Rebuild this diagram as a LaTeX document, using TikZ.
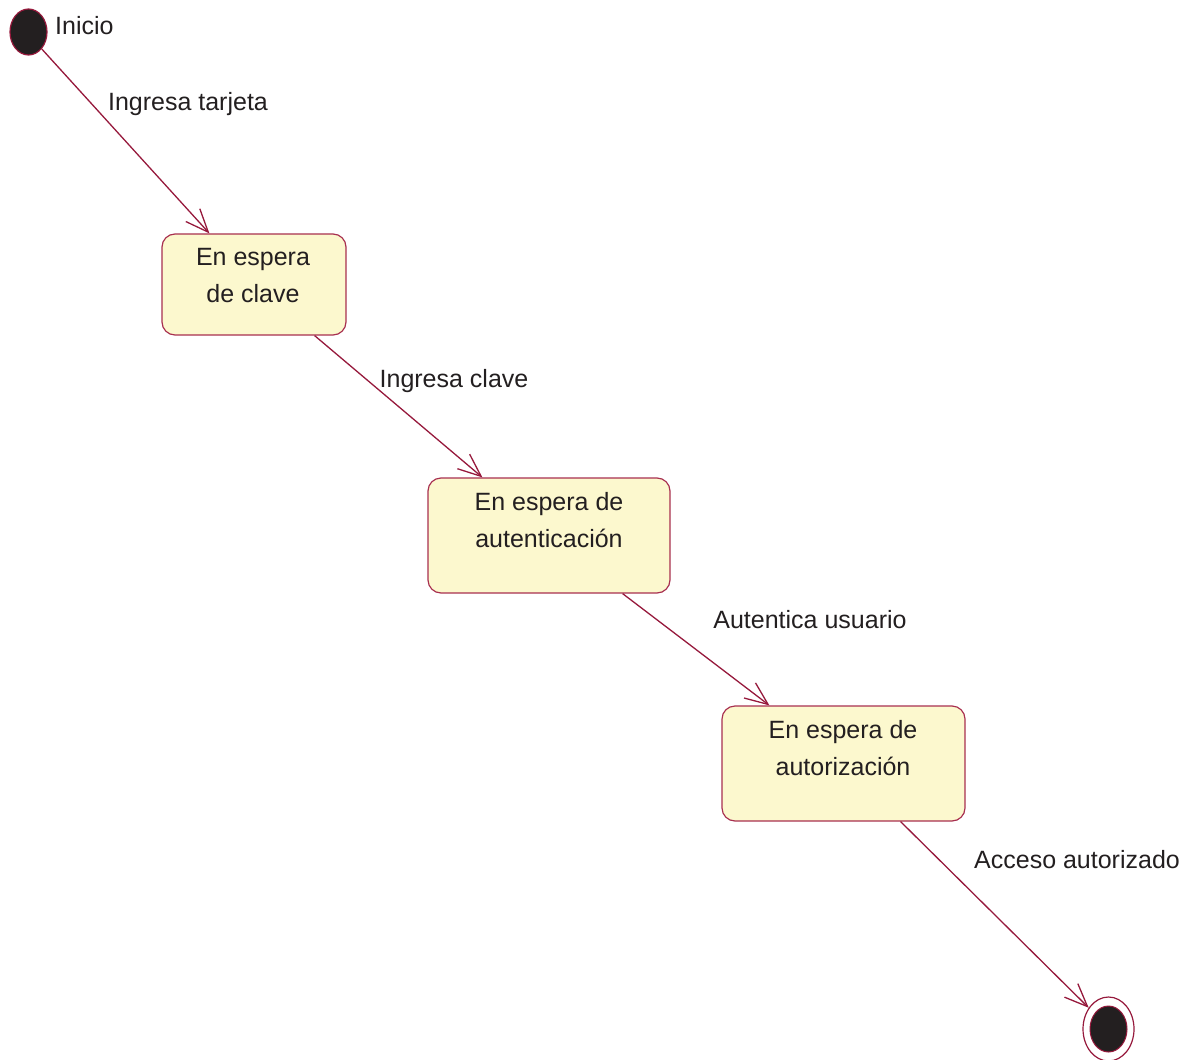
\documentclass[tikz,border=0pt]{standalone}
\usepackage{fontspec}
\setmainfont{Liberation Sans}
\usetikzlibrary{shapes.geometric,arrows.meta}
\definecolor{umlline}{RGB}{150,25,60}
\definecolor{umlborder}{RGB}{168,48,80}
\definecolor{umlfill}{RGB}{252,248,206}
\definecolor{umldot}{RGB}{35,31,32}
\tikzset{
  x=1pt, y=-1pt,
  txt/.style={font=\fontsize{25}{37}\selectfont, text=umldot, inner sep=0pt, align=center},
  statebox/.style={draw=umlborder, line width=1.2pt, fill=umlfill, rounded corners=13pt, inner sep=0pt},
  startdot/.style={ellipse, draw=umlline, line width=1.2pt, fill=umldot, inner sep=0pt, minimum width=37pt, minimum height=46pt},
  trans/.style={draw=umlline, line width=1.3pt, -{Straight Barb[length=23pt, width=19pt, line width=1.3pt]}},
}
\begin{document}
\begin{tikzpicture}
\useasboundingbox (0,0) rectangle (1198,1059);
% start
\node[startdot] (start) at (28.5,32) {};
\node[txt, anchor=west] (lstart) at (55,26) {Inicio};
% states
\node[statebox, minimum width=184pt, minimum height=101pt] (b1) at (254,284.5) {};
\node[txt] (t1) at (253,276) {En espera\\ de clave};
\node[statebox, minimum width=242pt, minimum height=115pt] (b2) at (549,535.5) {};
\node[txt] (t2) at (549,520) {En espera de\\ autenticación};
\node[statebox, minimum width=243pt, minimum height=115pt] (b3) at (843.5,763.5) {};
\node[txt] (t3) at (843,748) {En espera de\\ autorización};
% end
\node[ellipse, draw=umlline, line width=1.2pt, fill=white, inner sep=0pt, minimum width=51pt, minimum height=64pt] (end) at (1108.5,1029) {};
\node[ellipse, draw=umlline, line width=1pt, fill=umldot, inner sep=0pt, minimum width=37pt, minimum height=46pt] (endin) at (1108.5,1029) {};
% transitions
\draw[trans] (start.-52) -- ([xshift=48pt]b1.north west);
\draw[trans] ([xshift=-32pt]b1.south east) -- ([xshift=55pt]b2.north west);
\draw[trans] ([xshift=-48pt]b2.south east) -- ([xshift=48pt]b3.north west);
\draw[trans] ([xshift=-65pt]b3.south east) -- (end.133);
% labels
\node[txt] (l1) at (188,104) {Ingresa tarjeta};
\node[txt] (l2) at (454,381) {Ingresa clave};
\node[txt] (l3) at (810,620) {Autentica usuario};
\node[txt] (l4) at (1077,860) {Acceso autorizado};
\end{tikzpicture}
\end{document}
